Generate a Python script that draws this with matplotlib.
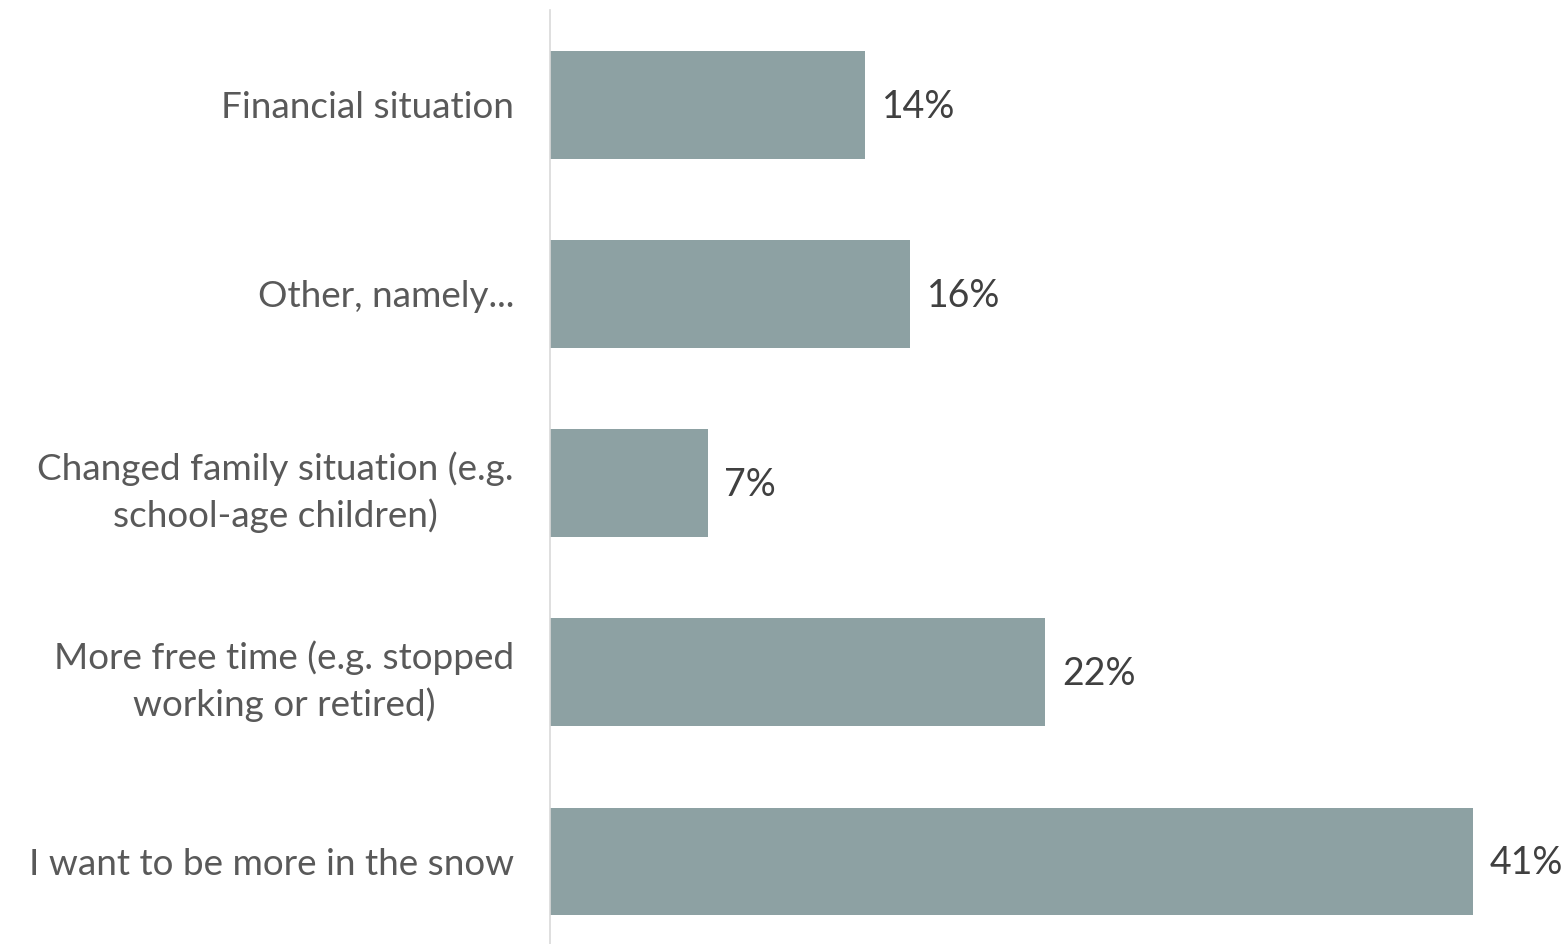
import matplotlib.pyplot as plt

categories = [
    "Financial situation",
    "Other, namely...",
    "Changed family situation (e.g.\nschool-age children)",
    "More free time (e.g. stopped\nworking or retired)",
    "I want to be more in the snow",
]
values = [14, 16, 7, 22, 41]

bar_color = "#8DA1A3"
label_color = "#595959"
value_color = "#404040"

plt.rcParams["font.family"] = ["Lato", "DejaVu Sans"]

fig = plt.figure(figsize=(15.67, 9.44), dpi=100)
W, H = 1567, 944
# axes box in pixel terms: left edge at the zero line, top just below the figure top
ax = fig.add_axes([550 / W, 0, (W - 550) / W, (944 - 10) / H])

ypos = list(range(len(categories)))
ax.barh(ypos, values, height=0.57, color=bar_color, zorder=2)

ax.set_xlim(0, (W - 550) / 22.5)
ax.set_ylim(4.436, -0.5)

for y, v in zip(ypos, values):
    ax.text(v + 0.75, y + 0.01, f"{v}%", ha="left", va="center",
            fontsize=27, color=value_color)

ax.set_yticks(ypos)
ax.set_yticklabels(categories, fontsize=26.6, color=label_color,
                   ha="right", multialignment="center", linespacing=1.42)
ax.tick_params(axis="y", length=0, pad=26)
ax.set_xticks([])

for side in ["top", "right", "bottom"]:
    ax.spines[side].set_visible(False)
ax.spines["left"].set_color("#D9D9D9")
ax.spines["left"].set_linewidth(1.2)

fig.savefig("out.png", dpi=100)
